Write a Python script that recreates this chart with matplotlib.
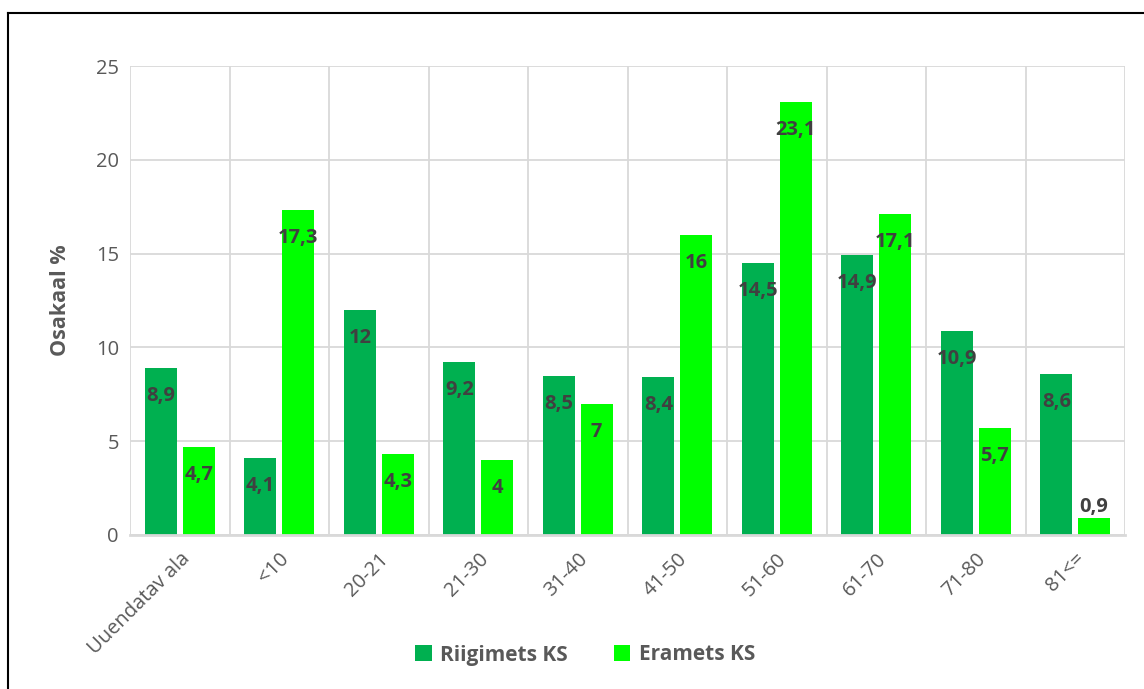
import matplotlib.pyplot as plt
import numpy as np
from matplotlib.lines import Line2D

plt.rcParams['font.family'] = ['Open Sans', 'DejaVu Sans']

kategooriad = ["Uuendatav ala", "<10", "20-21", "21-30", "31-40", "41-50",
               "51-60", "61-70", "71-80", "81<="]
riigimets = [8.9, 4.1, 12, 9.2, 8.5, 8.4, 14.5, 14.9, 10.9, 8.6]
eramets = [4.7, 17.3, 4.3, 4, 7, 16, 23.1, 17.1, 5.7, 0.9]
seeria_nimed = ["Riigimets KS", "Eramets KS"]

tume = "#00B050"
hele = "#00FF00"
hall = "#595959"

fig = plt.figure(figsize=(11.44, 6.89), dpi=100)
ax = fig.add_axes([130 / 1144, 1 - 535 / 689, 995 / 1144, 469 / 689])

x = np.arange(len(kategooriad))
b1 = ax.bar(x - 0.19, riigimets, width=0.32, color=tume, zorder=3, label=seeria_nimed[0])
b2 = ax.bar(x + 0.19, eramets, width=0.32, color=hele, zorder=3, label=seeria_nimed[1])

def silt(v):
    return (f"{v:g}").replace(".", ",")

for bars, vals in ((b1, riigimets), (b2, eramets)):
    for r, v in zip(bars, vals):
        cx = r.get_x() + r.get_width() / 2
        if v < 2:
            ax.annotate(silt(v), (cx, v), xytext=(0, 1), textcoords="offset pixels",
                        ha="center", va="bottom", fontsize=14.5, fontweight="bold",
                        color="#404040", zorder=4)
        else:
            ax.annotate(silt(v), (cx, v), xytext=(0, -28), textcoords="offset pixels",
                        ha="center", va="center", fontsize=14.5, fontweight="bold",
                        color="#404040", zorder=4)

ax.set_xlim(-0.5, len(kategooriad) - 0.5)
ax.set_ylim(0, 25)
ax.set_yticks(range(0, 26, 5))
ax.set_xticks(x)
ax.set_xticklabels(kategooriad, rotation=45, ha="right", rotation_mode="anchor")
ax.set_xticks(np.arange(-0.5, len(kategooriad), 1), minor=True)
ax.tick_params(axis="both", which="both", length=0, labelsize=14.5, colors=hall, pad=8)
ax.tick_params(axis="x", which="major", pad=10)
ax.grid(axis="y", color="#D9D9D9", lw=1.3, zorder=0)
ax.grid(axis="x", which="minor", color="#D9D9D9", lw=1.3, zorder=0)
ax.grid(axis="x", which="major", visible=False)
for s in ("top", "right", "left"):
    ax.spines[s].set_visible(False)
ax.spines["bottom"].set_color("#D9D9D9")
ax.spines["bottom"].set_linewidth(2)
ax.spines["bottom"].set_zorder(5)

ax.set_ylabel("Osakaal %", fontsize=15.5, fontweight="bold", color=hall, labelpad=18)

fig.legend(handles=[b1, b2], loc="center", bbox_to_anchor=(585 / 1144, 1 - 655 / 689),
           ncol=2, frameon=False, handlelength=0.8, handleheight=0.8,
           columnspacing=2.2, handletextpad=0.4,
           prop={"size": 15, "weight": "bold"}, labelcolor=hall)

# raam ülal ja vasakul
fig.add_artist(Line2D([8 / 1144, 8 / 1144], [0, 1 - 13 / 689], color="black", lw=1.5,
                      transform=fig.transFigure))
fig.add_artist(Line2D([8 / 1144, 1], [1 - 13 / 689, 1 - 13 / 689], color="black", lw=1.5,
                      transform=fig.transFigure))

fig.savefig("out.png", dpi=100)
